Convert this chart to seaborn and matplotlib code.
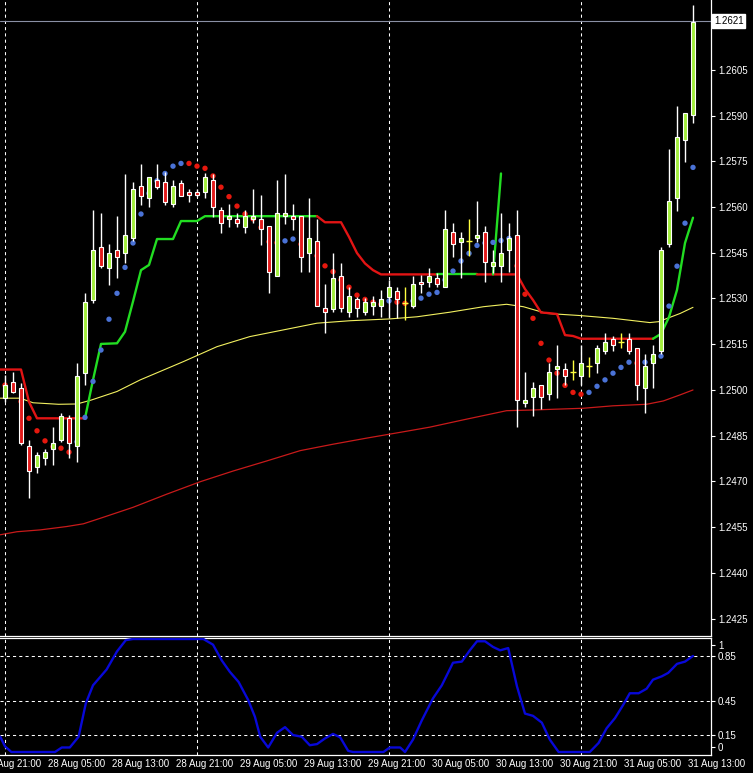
import numpy as np
import pandas as pd
import seaborn as sns
import matplotlib.pyplot as plt
import matplotlib.transforms as mtransforms

# H1 bars, hour 0 = 28 Aug 00:00
opens = [1.24973, 1.25025, 1.25006, 1.24816, 1.24747, 1.24776, 1.24806, 1.24836, 1.24907, 1.24816,
         1.25057, 1.25295, 1.25468, 1.25399, 1.25459, 1.25448, 1.25497, 1.25669, 1.25629, 1.25689,
         1.25683, 1.25609, 1.25680, 1.25648, 1.25648, 1.25648, 1.25689, 1.25590, 1.25560, 1.25560,
         1.25535, 1.25560, 1.25560, 1.25538, 1.25375, 1.25570, 1.25570, 1.25570, 1.25448, 1.25489,
         1.25268, 1.25266, 1.25375, 1.25257, 1.25297, 1.25257, 1.25276, 1.25276, 1.25306, 1.25326,
         1.25286, 1.25276, 1.25355, 1.25355, 1.25366, 1.25337, 1.25517, 1.25486, 1.25489, 1.25497,
         1.25517, 1.25408, 1.25408, 1.25459, 1.25508, 1.24956, 1.24976, 1.25016, 1.24986, 1.25068,
         1.25068, 1.25060, 1.25047, 1.25079, 1.25088, 1.25128, 1.25166, 1.25156, 1.25166, 1.25137,
         1.25006, 1.25088, 1.25128, 1.25478, 1.25629, 1.25820, 1.25902]
highs = [1.25049, 1.25060, 1.25023, 1.24836, 1.24798, 1.24807, 1.24880, 1.24925, 1.24918, 1.25088,
         1.25317, 1.25590, 1.25581, 1.25478, 1.25571, 1.25708, 1.25681, 1.25741, 1.25700, 1.25741,
         1.25716, 1.25689, 1.25689, 1.25659, 1.25659, 1.25711, 1.25708, 1.25599, 1.25610, 1.25579,
         1.25590, 1.25658, 1.25640, 1.25538, 1.25689, 1.25708, 1.25610, 1.25570, 1.25629, 1.25561,
         1.25347, 1.25448, 1.25415, 1.25339, 1.25306, 1.25301, 1.25309, 1.25328, 1.25361, 1.25339,
         1.25339, 1.25375, 1.25377, 1.25401, 1.25385, 1.25590, 1.25549, 1.25518, 1.25561, 1.25620,
         1.25538, 1.25459, 1.25581, 1.25547, 1.25590, 1.25060, 1.25025, 1.25016, 1.25088, 1.25148,
         1.25088, 1.25098, 1.25148, 1.25109, 1.25148, 1.25188, 1.25177, 1.25186, 1.25186, 1.25137,
         1.25118, 1.25148, 1.25470, 1.25790, 1.25931, 1.25910, 1.26262]
lows = [1.24962, 1.24990, 1.24820, 1.24646, 1.24727, 1.24754, 1.24754, 1.24830, 1.24776, 1.24765,
        1.25016, 1.25286, 1.25399, 1.25344, 1.25366, 1.25415, 1.25490, 1.25607, 1.25599, 1.25658,
        1.25607, 1.25599, 1.25636, 1.25617, 1.25633, 1.25629, 1.25568, 1.25516, 1.25535, 1.25535,
        1.25516, 1.25547, 1.25475, 1.25317, 1.25375, 1.25544, 1.25525, 1.25388, 1.25388, 1.25276,
        1.25186, 1.25257, 1.25257, 1.25240, 1.25238, 1.25246, 1.25246, 1.25240, 1.25235, 1.25235,
        1.25230, 1.25268, 1.25317, 1.25337, 1.25339, 1.25337, 1.25437, 1.25366, 1.25439, 1.25486,
        1.25355, 1.25384, 1.25355, 1.25388, 1.24878, 1.24945, 1.24916, 1.24938, 1.24967, 1.24973,
        1.25016, 1.25033, 1.25016, 1.25044, 1.25057, 1.25118, 1.25128, 1.25137, 1.25118, 1.24967,
        1.24926, 1.25006, 1.25118, 1.25470, 1.25588, 1.25749, 1.25877]
closes = [1.25016, 1.24994, 1.24825, 1.24735, 1.24787, 1.24796, 1.24825, 1.24916, 1.24825, 1.25047,
          1.25288, 1.25459, 1.25408, 1.25448, 1.25437, 1.25508, 1.25659, 1.25637, 1.25697, 1.25667,
          1.25617, 1.25669, 1.25637, 1.25638, 1.25638, 1.25697, 1.25599, 1.25547, 1.25570, 1.25547,
          1.25570, 1.25570, 1.25527, 1.25388, 1.25579, 1.25579, 1.25560, 1.25437, 1.25497, 1.25276,
          1.25257, 1.25366, 1.25268, 1.25308, 1.25268, 1.25288, 1.25288, 1.25297, 1.25337, 1.25297,
          1.25286, 1.25347, 1.25347, 1.25375, 1.25347, 1.25527, 1.25478, 1.25497, 1.25489, 1.25508,
          1.25419, 1.25419, 1.25448, 1.25497, 1.24967, 1.24967, 1.25006, 1.24976, 1.25058, 1.25079,
          1.25047, 1.25060, 1.25088, 1.25079, 1.25137, 1.25156, 1.25148, 1.25156, 1.25128, 1.25016,
          1.25079, 1.25118, 1.25459, 1.25620, 1.25830, 1.25910, 1.26208]

# moving averages (read at a few points)
ma_fast_x = [-0.6, 1.9, 3.5, 6.7, 9.0, 10.8, 14.0, 16.9, 22.3, 26.5, 30.6, 34.8, 39.0, 43.1, 48.1, 51.5,
             55.6, 59.8, 62.7, 64.8, 67.7, 71.9, 76.0, 80.6, 81.7, 83.1, 84.4, 86.0]
ma_fast_v = [1.24973, 1.24973, 1.24958, 1.24953, 1.24954, 1.24967, 1.24995, 1.25033, 1.25093, 1.25142,
             1.25175, 1.25197, 1.25219, 1.25227, 1.25233, 1.25240, 1.25255, 1.25273, 1.25281, 1.25273,
             1.25251, 1.25244, 1.25235, 1.25221, 1.25224, 1.25238, 1.25251, 1.25271]
ma_slow_x = [-0.6, 1.5, 4.4, 7.7, 9.8, 11.9, 16.0, 20.2, 24.4, 28.5, 32.7, 36.9, 41.0, 45.2, 49.4, 53.1,
             57.3, 62.7, 65.6, 72.3, 76.0, 80.2, 82.3, 84.4, 86.0]
ma_slow_v = [1.24525, 1.24535, 1.24541, 1.24552, 1.24561, 1.24579, 1.24615, 1.24658, 1.24699, 1.24734,
             1.24767, 1.24801, 1.24822, 1.24842, 1.24861, 1.24878, 1.24902, 1.24932, 1.24934, 1.24940,
             1.24948, 1.24953, 1.24964, 1.24984, 1.25000]

# trailing stop line, (bars, values, trend)
trail = [
    ([-1, 2, 3, 4, 10], [1.25067, 1.25067, 1.24961, 1.24907, 1.24907], "down"),
    ([10, 11, 12, 14, 15, 16, 17, 18, 19, 21, 22, 24, 25, 39],
     [1.24907, 1.25033, 1.25151, 1.25153, 1.25191, 1.25290, 1.25393, 1.25410, 1.25495, 1.25495,
      1.25554, 1.25554, 1.25570, 1.25570], "up"),
    ([39, 40, 42, 43, 44, 45, 46, 47, 54],
     [1.25570, 1.25550, 1.25550, 1.25502, 1.25449, 1.25415, 1.25393, 1.25379, 1.25379], "down"),
    ([54, 59], [1.25379, 1.25379], "up"),
    ([59, 64, 65, 66, 67, 68, 69, 70, 71, 72, 81],
     [1.25379, 1.25379, 1.25331, 1.25295, 1.25254, 1.25252, 1.25249, 1.25180, 1.25177, 1.25168,
      1.25168], "down"),
    ([61, 62], [1.25379, 1.25710], "up"),
    ([81, 82, 83, 84, 85, 86], [1.25168, 1.25184, 1.25239, 1.25328, 1.25482, 1.25565], "up"),
]

# parabolic dots
sar_bars = [0, 2, 3, 4, 5, 6, 7, 8, 9, 10, 11, 12, 13, 14, 15, 16, 17, 18, 19, 20, 21, 22, 23, 24, 25,
            26, 27, 28, 29, 30, 31, 32, 33, 34, 35, 36, 37, 39, 40, 41, 42, 43, 44, 45, 46, 47, 48, 49,
            50, 51, 52, 53, 54, 55, 56, 57, 58, 59, 60, 61, 62, 63, 64, 65, 66, 67, 68, 69, 70, 71, 72,
            73, 74, 75, 76, 77, 78, 79, 80, 81, 82, 83, 84, 85, 86]
sar_vals = [1.25016, 1.24962, 1.24907, 1.24866, 1.24833, 1.24814, 1.24809, 1.24796, 1.24830, 1.24910,
            1.25028, 1.25131, 1.25232, 1.25317, 1.25402, 1.25482, 1.25577, 1.25645, 1.25686, 1.25710,
            1.25734, 1.25743, 1.25743, 1.25734, 1.25727, 1.25702, 1.25665, 1.25634, 1.25603, 1.25577,
            1.25561, 1.25533, 1.25486, 1.25483, 1.25489, 1.25495, 1.25478, 1.25440, 1.25407, 1.25388,
            1.25361, 1.25337, 1.25311, 1.25297, 1.25288, 1.25281, 1.25292, 1.25288, 1.25284, 1.25292,
            1.25301, 1.25314, 1.25320, 1.25361, 1.25390, 1.25423, 1.25448, 1.25474, 1.25482, 1.25484,
            1.25490, 1.25497, 1.25407, 1.25314, 1.25235, 1.25153, 1.25098, 1.25055, 1.25015, 1.24992,
            1.24986, 1.24992, 1.25012, 1.25033, 1.25055, 1.25074, 1.25091, 1.25088, 1.25091, 1.25101,
            1.25111, 1.25275, 1.25406, 1.25547, 1.25730]
sar_side = list("dddddddduuuuuuuuuuuuuuddddddddddddu" "uddddddddddudduuuuuuuuuuuuuddddddddduuuuuuduuuuuuu")

# lower window oscillator
stoch_x = [-0.6, 0.0, 0.8, 6.25, 7.1, 8.1, 9.2, 10.1, 11.0, 12.7, 14.0, 15.1, 16.0, 24.8, 26.0, 27.1,
           28.1, 29.2, 30.4, 31.25, 31.9, 32.9, 34.0, 35.0, 36.0, 37.1, 38.1, 39.0, 40.0, 41.0, 41.9,
           42.9, 43.5, 47.3, 48.1, 49.4, 50.0, 51.0, 52.1, 53.5, 54.6, 56.0, 57.1, 58.1, 59.0, 60.0,
           61.0, 61.9, 62.9, 64.0, 65.0, 66.0, 67.1, 68.1, 69.2, 73.1, 74.2, 75.2, 76.25, 77.3, 78.1,
           79.2, 80.2, 81.0, 82.1, 82.9, 84.0, 85.0, 86.0]
stoch_v = [0.135, 0.05, 0.0, 0.0, 0.04, 0.04, 0.135, 0.43, 0.59, 0.73, 0.89, 0.99, 1.0, 1.0, 0.95, 0.81,
           0.71, 0.62, 0.46, 0.31, 0.135, 0.04, 0.17, 0.22, 0.15, 0.135, 0.06, 0.07, 0.12, 0.16, 0.13,
           0.01, 0.0, 0.0, 0.04, 0.04, 0.0, 0.11, 0.28, 0.475, 0.59, 0.79, 0.80, 0.90, 0.98, 0.98,
           0.93, 0.90, 0.92, 0.58, 0.34, 0.32, 0.26, 0.11, 0.0, 0.0, 0.08, 0.21, 0.30, 0.42, 0.52,
           0.52, 0.56, 0.64, 0.67, 0.70, 0.78, 0.80, 0.85]

price_ticks = [1.2425, 1.2440, 1.2455, 1.2470, 1.2485, 1.2500, 1.2515, 1.2530, 1.2545, 1.2560,
               1.2575, 1.2590, 1.2605]
last_price = 1.2621
day_bars = [0, 24, 48, 72]
time_hours = [-3, 5, 13, 21, 29, 37, 45, 53, 61, 69, 77, 85]
time_labels = ["27 Aug 21:00", "28 Aug 05:00", "28 Aug 13:00", "28 Aug 21:00", "29 Aug 05:00",
               "29 Aug 13:00", "29 Aug 21:00", "30 Aug 05:00", "30 Aug 13:00", "30 Aug 21:00",
               "31 Aug 05:00", "31 Aug 13:00"]
osc_levels = [0.85, 0.45, 0.15]

sns.set_theme(style="dark", rc={"axes.facecolor": "black", "figure.facecolor": "black"})
plt.rcParams['font.family'] = ['Liberation Sans', 'DejaVu Sans']

W, H = 753, 773
XLIM = (-0.625, 88.25)
fig = plt.figure(figsize=(W / 100, H / 100), dpi=100)
ax = fig.add_axes([0, 1 - 636 / H, 711 / W, 636 / H])
ax2 = fig.add_axes([0, 1 - 755 / H, 711 / W, (755 - 638) / H])

for a in (ax, ax2):
    a.set_facecolor("black")
    a.grid(False)
    for s in a.spines.values():
        s.set_color("white")
        s.set_linewidth(0.9)
    a.spines["left"].set_visible(False)
    for d in day_bars:
        a.axvline(d, color="white", lw=0.75, ls=(0, (3, 3)), zorder=1)
ax.spines["top"].set_visible(False)

# candles
df = pd.DataFrame({"o": opens, "h": highs, "l": lows, "c": closes})
df["x"] = np.arange(len(df))
bull_col, bear_col = "#a2ee3c", "#e31a1a"
kind = np.where(df.c > df.o, "bull", np.where(df.c < df.o, "bear", "doji"))
wick_cols = ["#ffff40" if k == "doji" else "white" for k in kind]
ax.vlines(df.x, df.l, df.h, colors=wick_cols, lw=1.0, zorder=6)
body = df[kind != "doji"]
bk = kind[kind != "doji"]
ax.bar(body.x, (body.c - body.o).abs(), bottom=np.minimum(body.o, body.c), width=0.62,
       color=[bull_col if k == "bull" else bear_col for k in bk], edgecolor="white", lw=0.8, zorder=7)
dj = df[kind == "doji"]
ax.hlines(dj.o, dj.x - 0.35, dj.x + 0.35, colors="#ffff40", lw=1.0, zorder=7)

# MAs
sns.lineplot(x=ma_slow_x, y=ma_slow_v, color="#c81a1a", lw=0.9, ax=ax, sort=False, zorder=3)
sns.lineplot(x=ma_fast_x, y=ma_fast_v, color="#f2f060", lw=0.8, ax=ax, sort=False, zorder=3)

# trailing line
for xs, vs, tr in trail:
    sns.lineplot(x=xs, y=vs, color="#22dd22" if tr == "up" else "#e21414", lw=1.7, ax=ax,
                 sort=False, zorder=4)

# dots
dots = pd.DataFrame({"x": sar_bars, "y": sar_vals, "side": sar_side})
sns.scatterplot(data=dots, x="x", y="y", hue="side", palette={"u": "#4a72d6", "d": "#e6180e"},
                s=15, linewidth=0, legend=False, ax=ax, zorder=5)

# last price
ax.axhline(last_price, color="#8a90a4", lw=0.8, zorder=2)
ax.text(1.004, last_price, f"{last_price:.4f}", transform=mtransforms.blended_transform_factory(
        ax.transAxes, ax.transData), ha="left", va="center", fontsize=7, color="black",
        bbox=dict(boxstyle="square,pad=0.2", fc="white", ec="white"), clip_on=False, zorder=10)

ax.yaxis.tick_right()
ax.set_yticks(price_ticks, [f"{p:.4f}" for p in price_ticks])
ax.tick_params(axis="y", colors="white", labelsize=7, length=3, width=0.8, pad=2)
ax.set_xticks([])
ax.set_xlabel("")
ax.set_ylabel("")

# oscillator window
for lv in osc_levels:
    ax2.axhline(lv, color="white", lw=0.75, ls=(0, (3, 3)), zorder=1)
sns.lineplot(x=stoch_x, y=stoch_v, color="#0808d8", lw=1.7, ax=ax2, sort=False, zorder=3)
ax2.yaxis.tick_right()
ax2.set_yticks([0.947] + osc_levels + [0.044], ["1"] + [f"{v:g}" for v in osc_levels] + ["0"])
ax2.tick_params(axis="y", colors="white", labelsize=7, length=3, width=0.8, pad=2)
ax2.set_xticks(time_hours, [""] * len(time_hours))
ax2.tick_params(axis="x", colors="white", length=3, width=0.8, pad=0)
trans = mtransforms.blended_transform_factory(ax2.transData, ax2.transAxes)
for h, lab in zip(time_hours, time_labels):
    ax2.text(h + 0.4, -0.035, lab, transform=trans, ha="left", va="top", fontsize=7,
             color="white", clip_on=False)
ax2.set_xlabel("")
ax2.set_ylabel("")

# limits last: set_xticks would widen the view otherwise
for a in (ax, ax2):
    a.set_xlim(*XLIM)
ax.set_ylim(1.24193, 1.26279)
ax2.set_ylim(-0.0265, 1.009)

fig.savefig("out.png", dpi=100, facecolor="black")
